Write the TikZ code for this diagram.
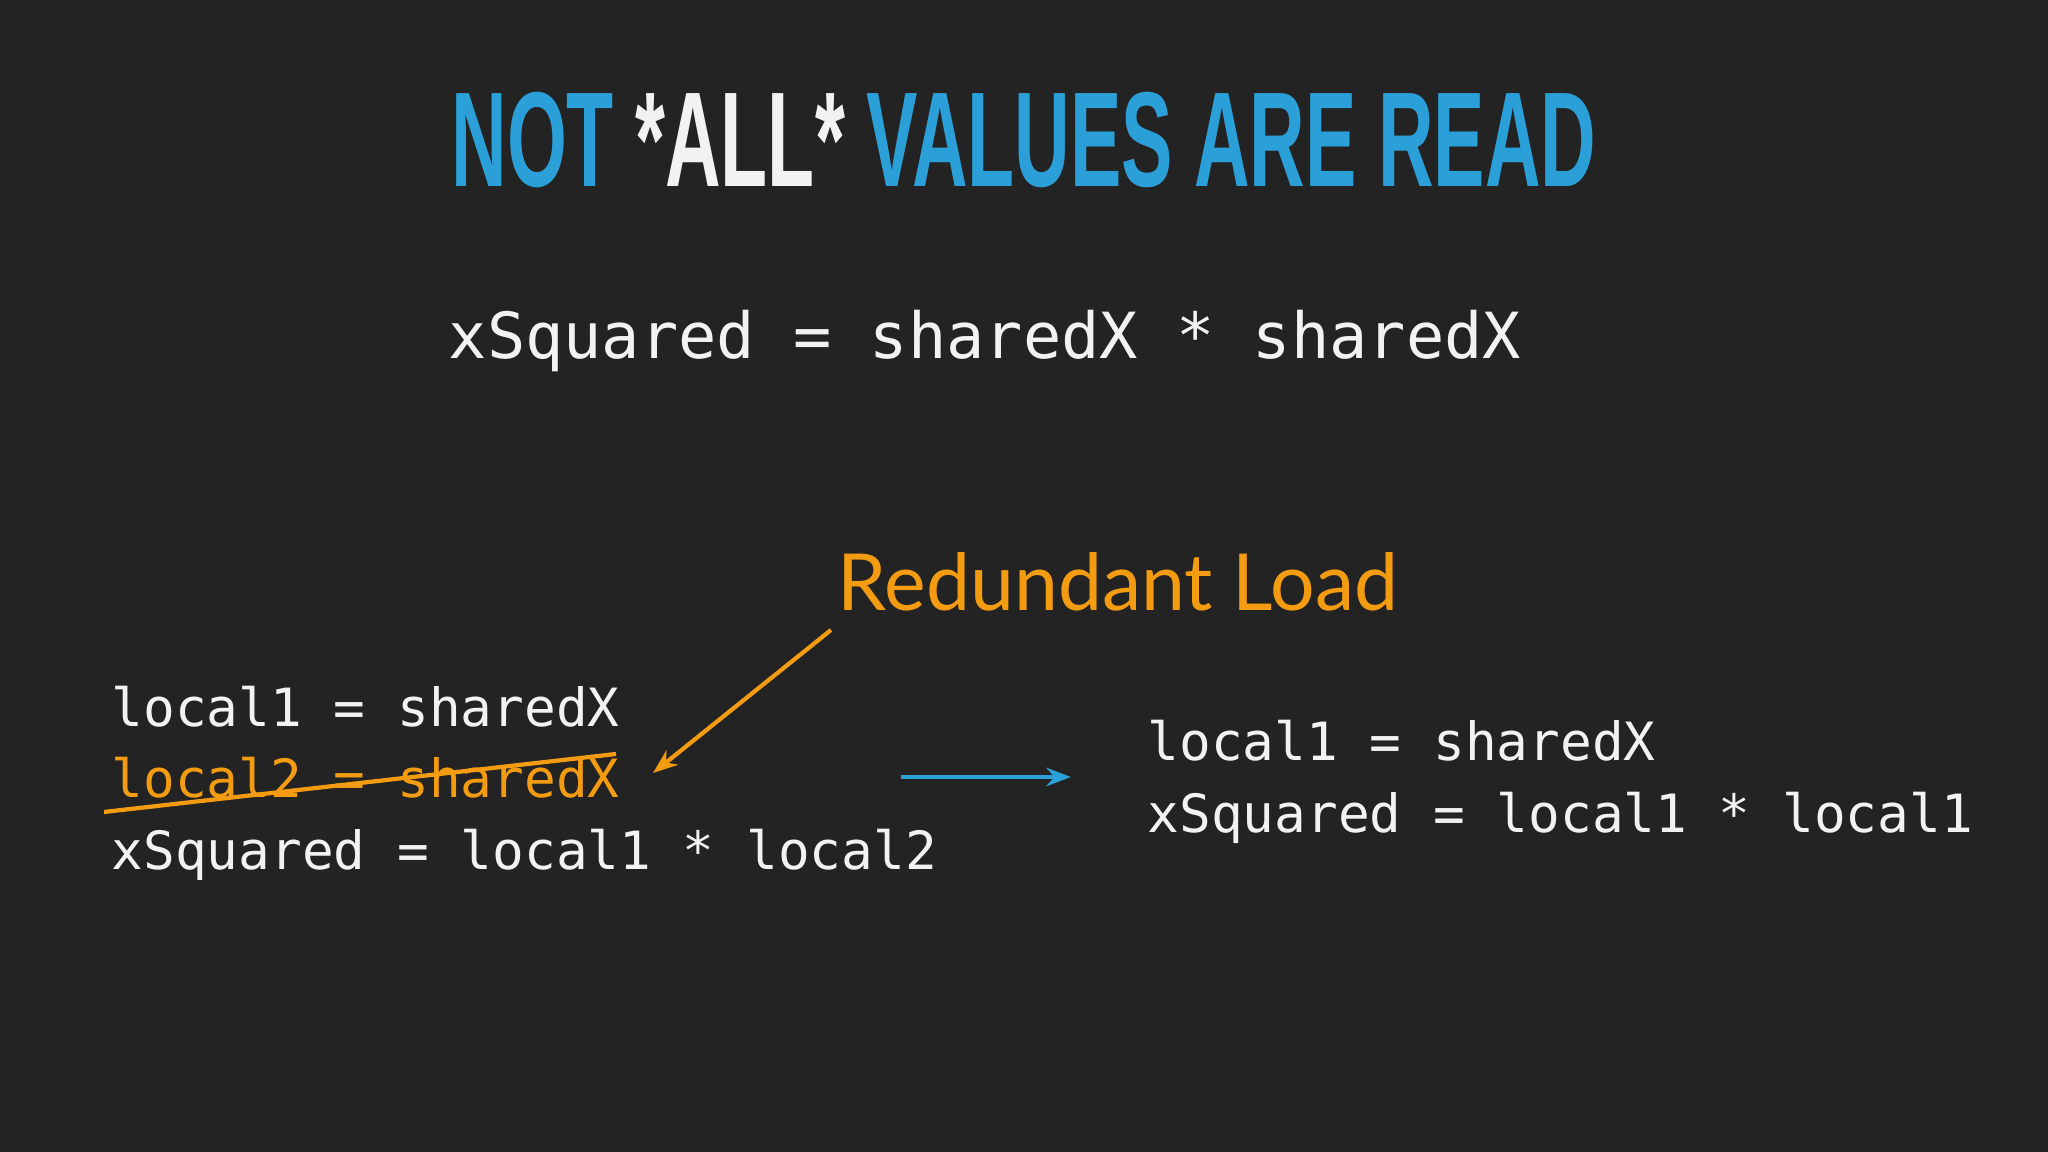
\documentclass[tikz,border=0pt]{standalone}
\usepackage{fontspec}
\setmainfont{Liberation Sans}
\newfontfamily\codefont{DejaVu Sans Mono}
\newfontfamily\labfont{Lato}
\usetikzlibrary{arrows.meta}
\definecolor{bg}{HTML}{232323}
\definecolor{tblue}{HTML}{2A9FD8}
\definecolor{torange}{HTML}{F39C12}
\definecolor{tcode}{HTML}{F2F2F2}
\begin{document}
\begin{tikzpicture}[x=1cm,y=1cm,
  code/.style={anchor=base west,inner sep=0pt,text=tcode,font=\codefont\fontsize{15}{15}\selectfont},
  bigcode/.style={anchor=base west,inner sep=0pt,text=tcode,font=\codefont\fontsize{18.1}{18}\selectfont}]
\fill[bg] (0,0) rectangle (20.48,11.52);
\useasboundingbox (0,0) rectangle (20.48,11.52);
\node[anchor=base,inner sep=0pt] (title) at (10.24,9.65)
  {\resizebox{11.45cm}{!}{\fontsize{40}{40}\selectfont\bfseries\scalebox{0.57}[1]{\textcolor{tblue}{NOT} \textcolor{tcode}{*ALL*} \textcolor{tblue}{VALUES ARE READ}}}};
\node[bigcode] (main) at (4.48,7.93) {xSquared = sharedX * sharedX};
\node[anchor=base west,inner sep=0pt,text=torange,font=\labfont\fontsize{22.4}{24}\selectfont] (lab) at (8.37,5.41) {Redundant Load};
\node[code] (l1) at (1.11,4.25) {local1 = sharedX};
\node[code,text=torange] (l2) at (1.11,3.54) {local2 = sharedX};
\node[code] (l3) at (1.11,2.82) {xSquared = local1 * local2};
\node[code] (r1) at (11.47,3.91) {local1 = sharedX};
\node[code] (r2) at (11.47,3.19) {xSquared = local1 * local1};
\coordinate (s1) at (1.04,3.40);
\coordinate (s2) at (6.16,3.98);
\draw[torange,line width=1.2pt] (s1) -- (s2);
\coordinate (a1) at (8.31,5.22);
\coordinate (a2) at (6.53,3.79);
\draw[torange,line width=1.2pt,-{Stealth[length=7pt]}] (a1) -- (a2);
\coordinate (b1) at (9.01,3.75);
\coordinate (b2) at (10.71,3.75);
\draw[tblue,line width=1.2pt,-{Stealth[length=7pt]}] (b1) -- (b2);
\end{tikzpicture}
\end{document}
